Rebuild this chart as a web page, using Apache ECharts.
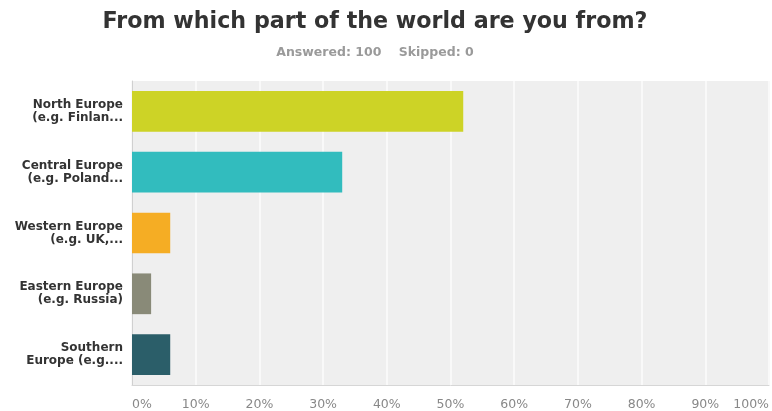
<!DOCTYPE html>
<html>
<head>
<meta charset="utf-8">
<script src="https://cdn.jsdelivr.net/npm/echarts@6/dist/echarts.min.js"></script>
<style>
  html, body { margin: 0; padding: 0; background: #fff; }
  #chart { width: 772px; height: 411px; }
</style>
</head>
<body>
<div id="chart"></div>
<script>
// Survey question: region of origin, share of respondents (%)
const categories = [
  'North Europe\n(e.g. Finlan...',
  'Central Europe\n(e.g. Poland...',
  'Western Europe\n(e.g. UK,...',
  'Eastern Europe\n(e.g. Russia)',
  'Southern\nEurope (e.g....'
];
const shares = [52, 33, 6, 3, 6];
const barColors = ['#cdd326', '#32bcbe', '#f5ad24', '#898a78', '#2b5e69'];

const FONT = '"DejaVu Sans", Verdana, sans-serif';

const chart = echarts.init(document.getElementById('chart'), null, { renderer: 'canvas' });

chart.setOption({
  animation: false,
  title: {
    text: 'From which part of the world are you from?',
    subtext: 'Answered: 100    Skipped: 0',
    left: 370,
    textAlign: 'center',
    top: 6,
    itemGap: 13,
    textStyle: {
      fontFamily: FONT,
      fontWeight: 'bold',
      fontSize: 22.2,
      color: '#333'
    },
    subtextStyle: {
      fontFamily: FONT,
      fontWeight: 'bold',
      fontSize: 12.5,
      color: '#9a9a9a'
    }
  },
  grid: {
    left: 132,
    right: 1,
    top: 81,
    bottom: 26,
    show: true,
    backgroundColor: '#efefef',
    borderWidth: 0
  },
  xAxis: {
    type: 'value',
    min: 0,
    max: 100,
    interval: 10,
    axisLine: { show: true, lineStyle: { color: '#d6d6d6', width: 1 } },
    axisTick: { show: false },
    splitLine: { show: true, lineStyle: { color: '#f9f9f9', width: 2 } },
    axisLabel: {
      formatter: '{value}%',
      color: '#888',
      fontFamily: FONT,
      fontSize: 12.5,
      margin: 13,
      alignMinLabel: 'left',
      alignMaxLabel: 'right'
    }
  },
  yAxis: {
    type: 'category',
    data: categories,
    inverse: true,
    axisLine: { show: true, lineStyle: { color: '#d0d0d0', width: 1 } },
    axisTick: { show: false },
    splitLine: { show: false },
    axisLabel: {
      color: '#333',
      fontFamily: FONT,
      fontWeight: 'bold',
      fontSize: 12,
      lineHeight: 13,
      margin: 9,
      align: 'right'
    }
  },
  series: [{
    type: 'bar',
    data: shares.map((v, i) => ({ value: v, itemStyle: { color: barColors[i] } })),
    barCategoryGap: '33%'
  }]
});
</script>
</body>
</html>
